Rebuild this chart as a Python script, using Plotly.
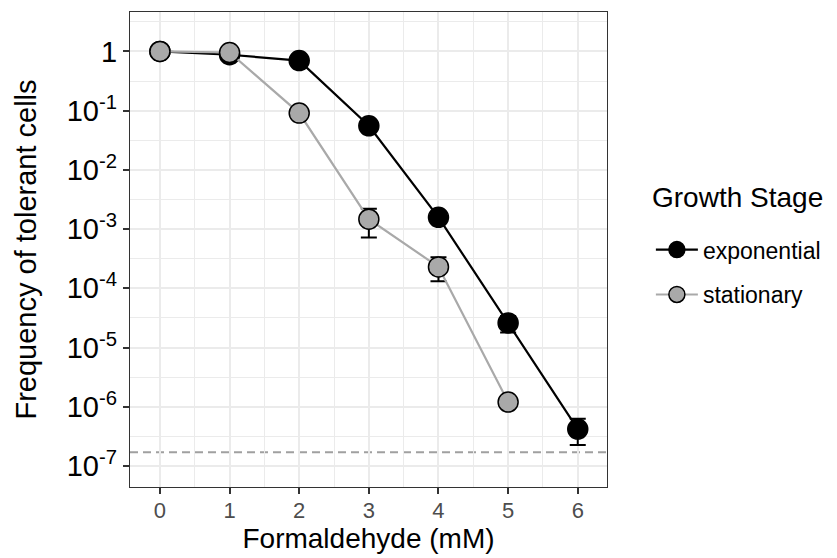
import plotly.graph_objects as go

# ---- data ----
formaldehyde_exp = [0, 1, 2, 3, 4, 5, 6]
freq_exp = [1.0, 0.88, 0.70, 0.0555, 1.58e-3, 2.6e-5, 4.2e-7]
err_exp_plus = [0, 0, 0, 0, 0, 0.8e-5, 2.1e-7]
err_exp_minus = [0, 0, 0, 0, 0, 0.8e-5, 1.95e-7]

formaldehyde_stat = [0, 1, 2, 3, 4, 5]
freq_stat = [1.0, 0.96, 0.091, 1.47e-3, 2.3e-4, 1.2e-6]
err_stat_plus = [0, 0, 0, 0.73e-3, 1.04e-4, 0]
err_stat_minus = [0, 0, 0, 0.75e-3, 0.98e-4, 0]

detection_limit = 1.7e-7

x_tick_vals = [0, 1, 2, 3, 4, 5, 6]
y_tick_vals = [1, 1e-1, 1e-2, 1e-3, 1e-4, 1e-5, 1e-6, 1e-7]
y_tick_text = ["1", "10<sup>-1</sup>", "10<sup>-2</sup>", "10<sup>-3</sup>",
               "10<sup>-4</sup>", "10<sup>-5</sup>", "10<sup>-6</sup>", "10<sup>-7</sup>"]
y_minor_vals = [10 ** (e + 0.5) for e in range(-8, 1)]

FONT = "Liberation Sans, Arial, Helvetica, sans-serif"
GREY_FILL = "#A9A9A9"

fig = go.Figure()

fig.add_trace(go.Scatter(
    x=formaldehyde_exp, y=freq_exp, mode="lines+markers", name="exponential",
    legendgroup="exp",
    line=dict(color="black", width=2.2),
    marker=dict(size=20, color="black", line=dict(color="black", width=1.5)),
    error_y=dict(type="data", symmetric=False, array=err_exp_plus,
                 arrayminus=err_exp_minus, color="black", thickness=2, width=8),
))
fig.add_trace(go.Scatter(
    x=formaldehyde_stat, y=freq_stat, mode="lines+markers", name="stationary",
    legendgroup="stat",
    line=dict(color=GREY_FILL, width=2.2),
    marker=dict(size=20, color=GREY_FILL, line=dict(color="black", width=1.5)),
    error_y=dict(type="data", symmetric=False, array=err_stat_plus,
                 arrayminus=err_stat_minus, color="black", thickness=2, width=8),
))

fig.add_shape(type="line", xref="paper", x0=0, x1=1, yref="y",
              y0=detection_limit, y1=detection_limit,
              line=dict(color="#A0A0A0", width=2, dash="8px,5px"), layer="below")

# legend title drawn as an annotation so the gap to the items matches
fig.add_annotation(text="Growth Stage", xref="paper", yref="paper",
                   x=1.090, y=0.609, xanchor="left", yanchor="middle",
                   showarrow=False, font=dict(size=28, color="black"))

# the page places the figure 8px in from the top-left corner
fig.update_layout(
    width=829, height=550,
    margin=dict(l=122, r=230, t=4, b=71, autoexpand=False),
    paper_bgcolor="white", plot_bgcolor="white",
    font=dict(family=FONT, color="black"),
    legend=dict(
        font=dict(size=23, color="black"),
        x=1.092, xanchor="left", y=0.545, yanchor="top",
        tracegroupgap=12, itemwidth=42,
        bgcolor="rgba(0,0,0,0)",
    ),
    xaxis=dict(
        automargin=False,
        range=[-0.43, 6.42], tickvals=x_tick_vals,
        ticks="outside", ticklen=6, tickwidth=1.5, tickcolor="#333333",
        tickfont=dict(size=22, color="#4D4D4D"), ticklabelstandoff=-3,
        showgrid=True, gridcolor="#EBEBEB", gridwidth=1.8,
        minor=dict(dtick=0.5, tick0=0, showgrid=True, gridcolor="#EBEBEB",
                   gridwidth=1, ticks=""),
        showline=True, mirror=True, linecolor="#333333", linewidth=1.3,
        zeroline=False,
        title=dict(text="Formaldehyde (mM)", font=dict(size=28, color="black"),
                   standoff=6),
    ),
    yaxis=dict(
        automargin=False,
        type="log", range=[-7.355, 0.666],
        tickmode="array", tickvals=y_tick_vals, ticktext=y_tick_text,
        ticks="outside", ticklen=6, tickwidth=1.5, tickcolor="#333333",
        tickfont=dict(size=29, color="black"),
        showgrid=True, gridcolor="#EBEBEB", gridwidth=1.8,
        minor=dict(tickmode="array", tickvals=y_minor_vals, showgrid=True,
                   gridcolor="#EBEBEB", gridwidth=1, ticks=""),
        showline=True, mirror=True, linecolor="#333333", linewidth=1.3,
        zeroline=False,
        title=dict(text="Frequency of tolerant cells",
                   font=dict(size=29, color="black"), standoff=21),
    ),
)

fig.write_html("out.html")
